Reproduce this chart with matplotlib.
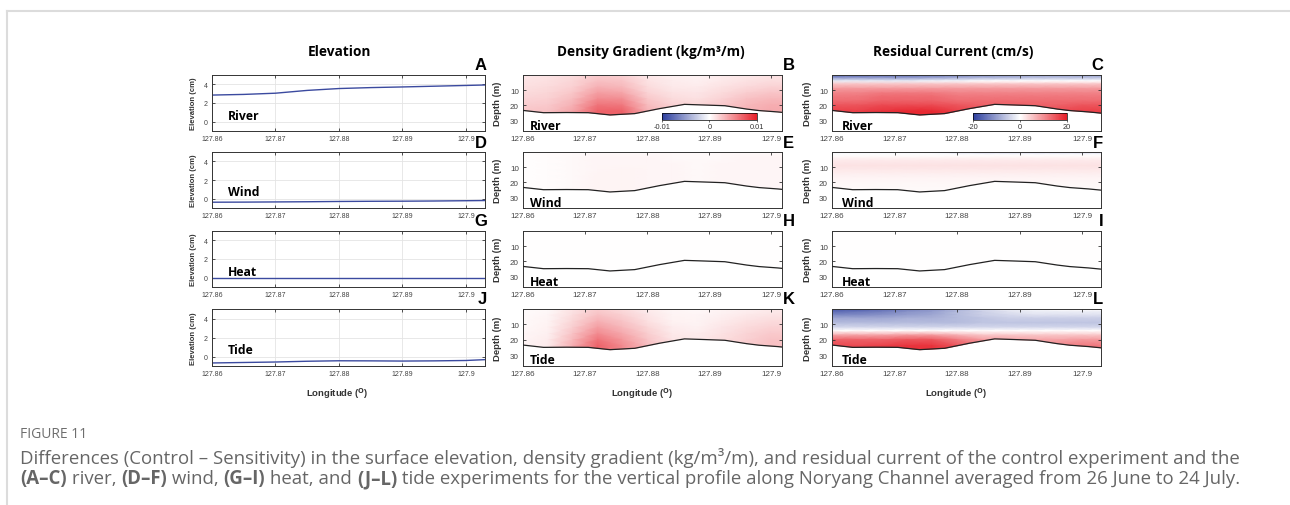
import numpy as np
import matplotlib
matplotlib.use('Agg')
import matplotlib.pyplot as plt
from matplotlib.colors import LinearSegmentedColormap
from matplotlib.lines import Line2D

# ---- data ----
experiments = ['River', 'Wind', 'Heat', 'Tide']
letters = [['A', 'B', 'C'], ['D', 'E', 'F'], ['G', 'H', 'I'], ['J', 'K', 'L']]

lon_ticks = [127.86, 127.87, 127.88, 127.89, 127.9]
lon_tick_labels = ['127.86', '127.87', '127.88', '127.89', '127.9']

# surface elevation difference (cm) along the channel
elev_lon = [127.860, 127.865, 127.870, 127.875, 127.880, 127.885, 127.890, 127.895, 127.900, 127.903]
river_elev = [2.85, 2.92, 3.05, 3.35, 3.55, 3.65, 3.72, 3.80, 3.88, 3.93]
wind_elev = [-0.38, -0.37, -0.35, -0.33, -0.30, -0.28, -0.27, -0.25, -0.22, -0.20]
heat_elev = [0.0, 0.0, 0.0, 0.0, 0.0, 0.0, 0.0, 0.0, 0.0, 0.0]
tide_elev = [-0.68, -0.63, -0.58, -0.50, -0.45, -0.46, -0.48, -0.46, -0.42, -0.33]

# channel bottom (m)
bathy_lon = [127.8600, 127.8633, 127.8670, 127.8705, 127.8740, 127.8780, 127.8820,
             127.8860, 127.8890, 127.8925, 127.8960, 127.8980, 127.9010, 127.9030]
bathy_depth = [23.4, 24.9, 24.8, 24.9, 26.4, 25.5, 22.2, 19.4, 19.8, 20.3, 22.5, 23.5, 24.4, 25.2]

# section grid
sec_lon = [127.860, 127.864, 127.868, 127.872, 127.876, 127.880,
           127.884, 127.888, 127.892, 127.896, 127.900, 127.903]
dens_depth = [0, 4, 8, 12, 16, 20, 24, 37]
cur_depth = [0, 2, 4, 6, 9, 12, 14, 17, 20, 24, 37]

# density gradient difference (x 1e-3 kg/m3/m)
river_dens = [
    [1.0, 1.2, 1.5, 2.2, 2.0, 1.0, 0.6, 0.5, 0.8, 1.0, 1.2, 1.2],
    [1.2, 1.4, 1.8, 2.8, 2.6, 1.3, 0.8, 0.7, 1.0, 1.3, 1.5, 1.5],
    [1.4, 1.6, 2.1, 3.5, 3.2, 1.6, 1.0, 0.9, 1.3, 1.7, 2.0, 2.0],
    [1.6, 1.8, 2.5, 4.3, 4.0, 2.0, 1.3, 1.1, 1.6, 2.2, 2.6, 2.6],
    [1.9, 2.1, 3.0, 5.2, 5.0, 2.5, 1.6, 1.4, 2.0, 2.8, 3.2, 3.2],
    [2.2, 2.4, 3.5, 6.2, 6.0, 3.0, 2.0, 1.8, 2.4, 3.2, 3.6, 3.6],
    [2.5, 2.7, 4.0, 7.0, 7.0, 3.5, 2.3, 2.0, 2.6, 3.4, 3.8, 3.8],
    [2.5, 2.7, 4.0, 7.0, 7.0, 3.5, 2.3, 2.0, 2.6, 3.4, 3.8, 3.8],
]
wind_dens = [
    [0.0, 0.1, 0.2, 0.3, 0.3, 0.3, 0.3, 0.3, 0.3, 0.3, 0.3, 0.3],
    [0.0, 0.1, 0.3, 0.4, 0.4, 0.4, 0.3, 0.3, 0.3, 0.4, 0.4, 0.4],
    [0.0, 0.1, 0.3, 0.4, 0.4, 0.4, 0.4, 0.3, 0.4, 0.4, 0.4, 0.4],
    [0.0, 0.1, 0.3, 0.4, 0.5, 0.4, 0.4, 0.3, 0.4, 0.4, 0.4, 0.4],
    [0.0, 0.1, 0.3, 0.5, 0.5, 0.4, 0.4, 0.3, 0.4, 0.4, 0.4, 0.4],
    [0.0, 0.1, 0.3, 0.5, 0.5, 0.4, 0.4, 0.3, 0.4, 0.4, 0.4, 0.4],
    [0.0, 0.1, 0.3, 0.5, 0.5, 0.4, 0.4, 0.3, 0.4, 0.4, 0.4, 0.4],
    [0.0, 0.1, 0.3, 0.5, 0.5, 0.4, 0.4, 0.3, 0.4, 0.4, 0.4, 0.4],
]
heat_dens = [
    [0.0, 0.0, 0.0, 0.0, 0.0, 0.0, 0.0, 0.0, 0.0, 0.0, 0.0, 0.0],
    [0.0, 0.0, 0.0, 0.0, 0.0, 0.0, 0.0, 0.0, 0.0, 0.0, 0.0, 0.0],
    [0.0, 0.0, 0.0, 0.0, 0.0, 0.0, 0.0, 0.0, 0.0, 0.0, 0.0, 0.0],
    [0.0, 0.0, 0.0, 0.0, 0.0, 0.0, 0.0, 0.0, 0.0, 0.0, 0.0, 0.0],
    [0.0, 0.0, 0.0, 0.0, 0.0, 0.0, 0.0, 0.0, 0.0, 0.0, 0.0, 0.0],
    [0.0, 0.0, 0.0, 0.0, 0.0, 0.0, 0.0, 0.0, 0.0, 0.0, 0.0, 0.0],
    [0.0, 0.0, 0.0, 0.0, 0.0, 0.0, 0.0, 0.0, 0.0, 0.0, 0.0, 0.0],
    [0.0, 0.0, 0.0, 0.0, 0.0, 0.0, 0.0, 0.0, 0.0, 0.0, 0.0, 0.0],
]
tide_dens = [
    [0.2, 0.3, 1.2, 2.2, 1.6, 0.8, 0.4, 0.3, 0.5, 0.7, 0.9, 0.9],
    [0.2, 0.4, 1.5, 2.8, 2.1, 1.1, 0.5, 0.4, 0.7, 1.0, 1.2, 1.2],
    [0.3, 0.5, 1.8, 3.5, 2.6, 1.4, 0.6, 0.5, 0.9, 1.3, 1.6, 1.6],
    [0.3, 0.6, 2.2, 4.3, 3.2, 1.8, 0.8, 0.6, 1.1, 1.6, 2.0, 2.0],
    [0.4, 0.7, 2.7, 5.2, 3.9, 2.2, 1.0, 0.8, 1.3, 1.9, 2.4, 2.4],
    [0.4, 0.8, 3.2, 6.2, 4.6, 2.6, 1.2, 1.0, 1.5, 2.1, 2.7, 2.7],
    [0.5, 0.9, 3.6, 7.0, 5.2, 3.0, 1.4, 1.1, 1.6, 2.2, 2.8, 2.8],
    [0.5, 0.9, 3.6, 7.0, 5.2, 3.0, 1.4, 1.1, 1.6, 2.2, 2.8, 2.8],
]

# residual current difference (cm/s)
river_cur = [
    [-16, -16, -15, -15, -14, -13, -12, -11, -10, -10, -10, -10],
    [-10, -10, -10, -10, -9, -8, -7, -7, -6, -6, -6, -6],
    [-2, -2, -2, -2, -1, -1, 0, 0, 0, 0, 0, 0],
    [5, 5, 5, 5, 5, 5, 5, 5, 5, 5, 5, 5],
    [9, 9, 9, 9, 9, 9, 9, 9, 9, 9, 9, 9],
    [11, 11, 12, 12, 12, 11, 11, 11, 11, 11, 11, 11],
    [12, 12, 13, 13, 13, 12, 12, 12, 12, 12, 12, 12],
    [13, 13, 14, 14, 14, 13, 13, 13, 13, 13, 13, 13],
    [15, 15, 16, 16, 16, 15, 14, 14, 14, 14, 15, 15],
    [17, 17, 18, 19, 19, 17, 16, 16, 16, 16, 17, 17],
    [18, 18, 19, 20, 20, 18, 17, 17, 17, 17, 18, 18],
]
wind_cur = [
    [-1, -1, -1, -1, -1, -3, -4, -4, -4, -4, -4, -4],
    [0, 0, 0, 0, 0, 0, 0, 0, 0, 0, 0, 0],
    [1, 1, 1, 1, 1, 1, 1, 1, 1, 1, 1, 1],
    [2, 2, 2, 2, 2, 2, 2, 2, 2, 2, 2, 2],
    [2.5, 2.5, 2.5, 2.5, 2.5, 2.5, 2.5, 2.5, 2.5, 2.5, 2.5, 2.5],
    [2, 2, 2, 2, 2, 2, 2, 2, 2, 2, 2, 2],
    [1.5, 1.5, 1.5, 1.5, 1.5, 1.5, 1.5, 1.5, 1.5, 1.5, 1.5, 1.5],
    [1, 1, 1, 1, 1, 1, 1, 1, 1, 1, 1, 1],
    [0.7, 0.7, 0.7, 0.7, 0.7, 0.7, 0.7, 0.7, 0.7, 0.7, 0.7, 0.7],
    [0.5, 0.5, 0.5, 0.5, 0.5, 0.5, 0.5, 0.5, 0.5, 0.5, 0.5, 0.5],
    [0.5, 0.5, 0.5, 0.5, 0.5, 0.5, 0.5, 0.5, 0.5, 0.5, 0.5, 0.5],
]
heat_cur = [
    [0, 0, 0, 0, 0, 0, 0, 0, 0, 0, 0, 0],
    [0, 0, 0, 0, 0, 0, 0, 0, 0, 0, 0, 0],
    [0, 0, 0, 0, 0, 0, 0, 0, 0, 0, 0, 0],
    [0, 0, 0, 0, 0, 0, 0, 0, 0, 0, 0, 0],
    [0, 0, 0, 0, 0, 0, 0, 0, 0, 0, 0, 0],
    [0, 0, 0, 0, 0, 0, 0, 0, 0, 0, 0, 0],
    [0, 0, 0, 0, 0, 0, 0, 0, 0, 0, 0, 0],
    [0, 0, 0, 0, 0, 0, 0, 0, 0, 0, 0, 0],
    [0, 0, 0, 0, 0, 0, 0, 0, 0, 0, 0, 0],
    [0, 0, 0, 0, 0, 0, 0, 0, 0, 0, 0, 0],
    [0, 0, 0, 0, 0, 0, 0, 0, 0, 0, 0, 0],
]
tide_cur = [
    [-17, -17, -15, -13, -11, -8, -4, -2, -1, 0, 0, 0],
    [-15, -14, -13, -11, -10, -7, -5, -3, -2, -2, -2, -2],
    [-12, -12, -11, -10, -9, -7, -5, -4, -3, -3, -3, -3],
    [-9, -9, -9, -8, -8, -7, -6, -5, -5, -5, -5, -5],
    [-7, -7, -7, -7, -7, -7, -6, -6, -6, -6, -6, -6],
    [-4, -4, -4, -4, -4, -4, -4, -4, -4, -4, -4, -4],
    [0, 0, 0, 0, 0, 0, 0, 0, 0, 0, 0, 0],
    [8, 8, 8, 9, 9, 7, 5, 5, 5, 5, 5, 5],
    [14, 14, 14, 15, 15, 12, 9, 8, 8, 8, 9, 9],
    [16, 16, 17, 18, 18, 15, 11, 10, 10, 11, 12, 12],
    [17, 17, 18, 19, 19, 16, 12, 11, 11, 12, 13, 13],
]

elevations = [river_elev, wind_elev, heat_elev, tide_elev]
densities = [river_dens, wind_dens, heat_dens, tide_dens]
currents = [river_cur, wind_cur, heat_cur, tide_cur]

# ---- figure ----
W, H = 1290, 506
fig = plt.figure(figsize=(W / 100, H / 100), dpi=100)
fig.patch.set_facecolor('white')

cmap = LinearSegmentedColormap.from_list('bwr_m', ['#2c3e9e', '#ffffff', '#e61e28'])

tick_font = ['Liberation Sans Narrow', 'Liberation Sans', 'DejaVu Sans']
label_font = ['Open Sans', 'DejaVu Sans']

col_x = [(212, 485), (523, 782), (832, 1101)]
row_y = [(76, 132), (153, 209), (232, 288), (310, 367)]
col_xmax = [127.903, 127.9017, 127.903]


def px_axes(x0, x1, y0, y1):
    return fig.add_axes([x0 / W, 1 - y1 / H, (x1 - x0) / W, (y1 - y0) / H])


def style_axes(ax, xmax, size):
    ax.set_xlim(127.86, xmax)
    ax.set_xticks(lon_ticks)
    ax.set_xticklabels(lon_tick_labels)
    ax.tick_params(direction='in', top=True, right=True, length=2.5, width=0.6,
                   labelsize=size, colors='#333333', pad=3)
    for lab in ax.get_xticklabels() + ax.get_yticklabels():
        lab.set_family(tick_font)
        lab.set_color('#444444')
    for sp in ax.spines.values():
        sp.set_linewidth(0.7)
        sp.set_color('#333333')


def section(ax, data, depth, vmin, vmax):
    mesh = ax.pcolormesh(sec_lon, depth, np.array(data, dtype=float), cmap=cmap,
                         vmin=vmin, vmax=vmax, shading='gouraud', zorder=1)
    # blank out everything below the channel bottom
    ax.fill_between(bathy_lon, bathy_depth, 40, color='white', zorder=2, lw=0)
    ax.plot(bathy_lon, bathy_depth, color='#222222', lw=0.9, zorder=3)
    ax.set_ylim(37, 0)
    ax.set_yticks([10, 20, 30])
    return mesh


letter_pos = [(1 + 2 / 273, 'right'), (1 + 1 / 259, 'left'), (1 + 2 / 269, 'right')]

for r, name in enumerate(experiments):
    y0, y1 = row_y[r]
    axes_row = [px_axes(x0, x1, y0, y1) for (x0, x1) in col_x]
    h = y1 - y0

    # elevation
    ax = axes_row[0]
    ax.plot(elev_lon, elevations[r], color='#3b4a9f', lw=1.0)
    ax.set_ylim(-1, 5)
    ax.set_yticks([0, 2, 4])
    ax.grid(True, color='#e4e4e4', lw=0.6)
    ax.set_axisbelow(True)
    style_axes(ax, col_xmax[0], 5)
    ax.set_ylabel('Elevation (cm)', fontsize=5.5, weight='bold', family=tick_font, color='#333333')
    ax.yaxis.set_label_coords(-0.055, 0.5)
    ax.text(0.059, 0.27 if r in (0, 2) else 0.286, name, transform=ax.transAxes,
            fontsize=8.8, weight='bold', family=label_font, va='center', ha='left')

    # density gradient
    ax = axes_row[1]
    m_d = section(ax, [[v * 1e-3 for v in row] for row in densities[r]], dens_depth, -0.01, 0.01)
    style_axes(ax, col_xmax[1], 5.8)
    ax.set_ylabel('Depth (m)', fontsize=6.8, weight='bold', family=tick_font, color='#333333')
    ax.yaxis.set_label_coords(-0.081, 0.5)
    ax.text(0.027, 0.107, name, transform=ax.transAxes, fontsize=8.8, weight='bold',
            family=label_font, va='center', ha='left', zorder=5)

    # residual current
    ax = axes_row[2]
    m_c = section(ax, currents[r], cur_depth, -20, 20)
    style_axes(ax, col_xmax[2], 5.8)
    ax.set_ylabel('Depth (m)', fontsize=6.8, weight='bold', family=tick_font, color='#333333')
    ax.yaxis.set_label_coords(-0.074, 0.5)
    ax.text(0.037, 0.107, name, transform=ax.transAxes, fontsize=8.8, weight='bold',
            family=label_font, va='center', ha='left', zorder=5)

    for c in range(3):
        xl, ha = letter_pos[c]
        axes_row[c].text(xl, 1 + 10 / h, letters[r][c], transform=axes_row[c].transAxes,
                         fontsize=12, weight='bold', family=['Liberation Sans', 'DejaVu Sans'],
                         ha=ha, va='center')

    if r == 0:
        # colorbars sit inside the top section panels
        for c, (mesh, ticks, labels, x0, x1) in enumerate(
                [(m_d, [-0.01, 0, 0.01], ['-0.01', '0', '0.01'], 0.537, 0.903),
                 (m_c, [-20, 0, 20], ['-20', '0', '20'], 0.524, 0.874)]):
            host = axes_row[c + 1]
            cax = host.inset_axes([x0, 0.196, x1 - x0, 0.131])
            cb = fig.colorbar(mesh, cax=cax, orientation='horizontal', ticks=ticks)
            cb.ax.set_xticklabels(labels)
            cb.ax.tick_params(labelsize=5.3, length=1.5, width=0.5, pad=1.0, colors='#333333')
            for lab in cb.ax.get_xticklabels():
                lab.set_family(tick_font)
            cb.outline.set_linewidth(0.5)

    if r == 3:
        for c in range(3):
            axes_row[c].set_xlabel('Longitude ($^{\\mathbf{O}}$)', fontsize=6.8, weight='bold',
                                   family=tick_font, color='#333333')
            axes_row[c].xaxis.set_label_coords(0.46, -0.34)

# column titles
titles = ['Elevation', 'Density Gradient (kg/m³/m)', 'Residual Current (cm/s)']
title_x = [339, 651, 953]
for t, x in zip(titles, title_x):
    fig.text(x / W, 1 - 52 / H, t, fontsize=9.8, weight='bold', family=label_font,
             ha='center', va='center')

# page frame
fig.add_artist(Line2D([7 / W, 1], [1 - 12 / H, 1 - 12 / H], color='#dcdcdc', lw=1.5))
fig.add_artist(Line2D([7 / W, 7 / W], [0, 1 - 12 / H], color='#dcdcdc', lw=1.5))

# caption
cap_font = ['Open Sans', 'DejaVu Sans']
cap_color = '#666666'
fig.text(20 / W, 1 - 434 / H, 'FIGURE 11', fontsize=10, family=cap_font, color='#6e6e6e',
         va='center', ha='left')

renderer = fig.canvas.get_renderer()


def text_runs(x_px, y_px, runs, size):
    x = x_px / W
    for s, weight in runs:
        t = fig.text(x, 1 - y_px / H, s, fontsize=size, family=cap_font, weight=weight,
                     color=cap_color, va='center', ha='left')
        x += t.get_window_extent(renderer).width / W


cap_size = 13.4
text_runs(20, 458, [('Differences (Control – Sensitivity) in the surface elevation, density gradient '
                     '(kg/m³/m), and residual current of the control experiment and the', 'normal')],
          cap_size)
text_runs(20, 479, [('(A–C)', 'bold'), (' river, ', 'normal'), ('(D–F)', 'bold'),
                    (' wind, ', 'normal'), ('(G–I)', 'bold'), (' heat, and ', 'normal'),
                    ('(J–L)', 'bold'),
                    (' tide experiments for the vertical profile along Noryang Channel averaged '
                     'from 26 June to 24 July.', 'normal')], cap_size)

fig.savefig('out.png', dpi=100, facecolor='white')
